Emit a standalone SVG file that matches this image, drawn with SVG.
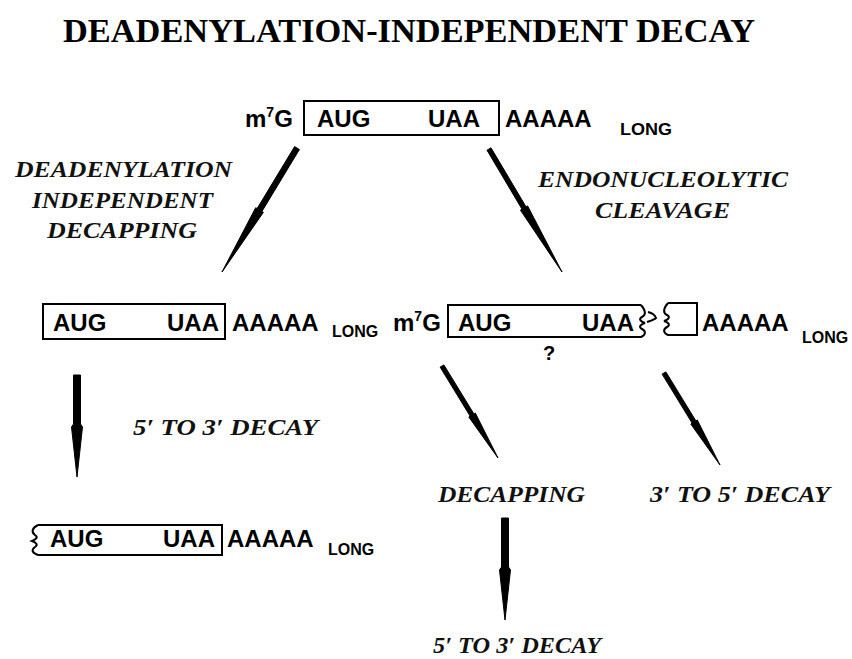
<svg xmlns="http://www.w3.org/2000/svg" width="852" height="659" viewBox="0 0 852 659">
<style>
  .title { font-family: "Liberation Serif", "Times New Roman", serif; font-weight: bold; font-size: 33px; fill: #000; }
  .lab { font-family: "Liberation Serif", "Times New Roman", serif; font-weight: bold; font-style: italic; font-size: 23px; fill: #111; }
  .seq { font-family: "Liberation Sans", Arial, sans-serif; font-weight: bold; font-size: 24px; fill: #000; }
  .sub { font-family: "Liberation Sans", Arial, sans-serif; font-weight: bold; font-size: 16px; fill: #000; }
  .sup { font-size: 14px; }
  .box { fill: none; stroke: #000; stroke-width: 2; }
  .arrow { fill: #000; stroke: #000; stroke-width: 1; stroke-linejoin: round; }
</style>

<g id="title">
  <text class="title" x="63" y="42" textLength="692" lengthAdjust="spacingAndGlyphs">DEADENYLATION-INDEPENDENT DECAY</text>
</g>

<g id="mrna-top">
  <text class="seq" x="245" y="127">m<tspan class="sup" dy="-10">7</tspan><tspan dy="10">G</tspan></text>
  <rect class="box" x="304" y="101" width="195" height="34"/>
  <text class="seq" x="317" y="127">AUG</text>
  <text class="seq" x="428" y="127">UAA</text>
  <text class="seq" x="505" y="127">AAAAA</text>
  <text class="sub" x="620" y="135" textLength="52" lengthAdjust="spacingAndGlyphs">LONG</text>
</g>

<g id="label-deadenylation">
  <text class="lab" x="15" y="177" textLength="217" lengthAdjust="spacingAndGlyphs">DEADENYLATION</text>
  <text class="lab" x="32" y="208" textLength="181" lengthAdjust="spacingAndGlyphs">INDEPENDENT</text>
  <text class="lab" x="47" y="238" textLength="150" lengthAdjust="spacingAndGlyphs">DECAPPING</text>
</g>

<g id="label-endonucleolytic">
  <text class="lab" x="538" y="187" textLength="250" lengthAdjust="spacingAndGlyphs">ENDONUCLEOLYTIC</text>
  <text class="lab" x="595" y="218" textLength="135" lengthAdjust="spacingAndGlyphs">CLEAVAGE</text>
</g>

<g id="mrna-decapped">
  <rect class="box" x="43" y="304" width="182" height="35"/>
  <text class="seq" x="53" y="331">AUG</text>
  <text class="seq" x="167" y="331">UAA</text>
  <text class="seq" x="232" y="331">AAAAA</text>
  <text class="sub" x="332" y="337">LONG</text>
</g>

<g id="mrna-cleaved">
  <text class="seq" x="393" y="331">m<tspan class="sup" dy="-10">7</tspan><tspan dy="10">G</tspan></text>
  <path class="box" d="M641,305 H448 V337 H641 c5,-2 5,-6 1,-8 c-4,-2 -1,-5 3,-6 c-4,-1 -7,-4 -3,-6 c4,-2 4,-6 -1,-12"/>
  <path class="box" d="M648,312 c4,1 7,3 8,6 c-2,2 -6,3 -9,4"/>
  <path class="box" d="M668,303 H697 V335 H668 c-5,-2 -5,-6 -1,-8 c4,-2 1,-5 -3,-6 c4,-1 7,-4 3,-6 c-4,-2 -4,-6 1,-12"/>
  <text class="seq" x="458" y="331">AUG</text>
  <text class="seq" x="582" y="331">UAA</text>
  <text class="seq" x="702" y="331">AAAAA</text>
  <text class="sub" x="802" y="343">LONG</text>
  <text class="seq" x="543" y="360" style="font-size:20px">?</text>
</g>

<g id="label-5to3-left">
  <text class="lab" x="133" y="435" textLength="185" lengthAdjust="spacingAndGlyphs">5′ TO 3′ DECAY</text>
</g>

<g id="mrna-5to3-decaying">
  <path class="box" d="M38,525 H222 V555 H38 c-6,-2 -7,-5 -3,-8 c3,-2 2,-4 -3,-6 c5,-2 6,-4 3,-6 c-4,-3 -3,-7 3,-10"/>
  <text class="seq" x="50" y="547">AUG</text>
  <text class="seq" x="163" y="547">UAA</text>
  <text class="seq" x="227" y="547">AAAAA</text>
  <text class="sub" x="328" y="555">LONG</text>
</g>

<g id="label-decapping">
  <text class="lab" x="438" y="502" textLength="147" lengthAdjust="spacingAndGlyphs">DECAPPING</text>
</g>

<g id="label-3to5">
  <text class="lab" x="650" y="502" textLength="180" lengthAdjust="spacingAndGlyphs">3′ TO 5′ DECAY</text>
</g>

<g id="label-5to3-bottom">
  <text class="lab" x="433" y="653" textLength="168" lengthAdjust="spacingAndGlyphs">5′  TO 3′  DECAY</text>
</g>

<g id="connectors">
  <polygon class="arrow" points="299.4,149.5 261.9,211.5 263.4,212.3 222,272 255.7,207.7 257.1,208.6 294.6,146.6"/>
  <polygon class="arrow" points="491,147.8 526,206.8 527.6,205.9 562,272 520.4,210.1 522,209.2 487,150.2"/>
  <polygon class="arrow" points="73.5,375 80.5,375 80.5,424 82.5,427 77,477 71.5,427 73.5,424"/>
  <polygon class="arrow" points="443.9,364.9 473.9,413.9 475.3,413 498,458 468.8,417 470.1,416.1 440.1,367.1"/>
  <polygon class="arrow" points="665.9,371.9 695.9,420.9 697.3,420 720,465 690.8,424 692.1,423.1 662.1,374.1"/>
  <polygon class="arrow" points="501.5,518 508.5,518 508.5,567 510.5,570 505,620 499.5,570 501.5,567"/>
</g>
</svg>
